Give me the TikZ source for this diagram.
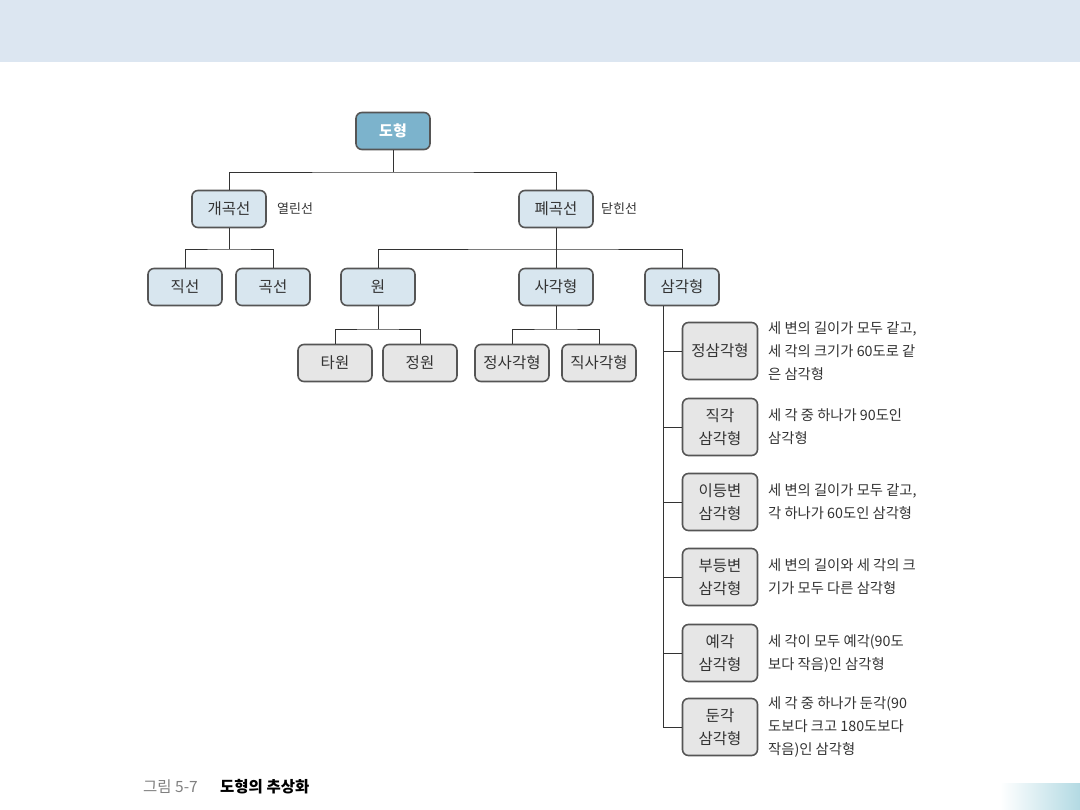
\documentclass[tikz,border=0pt]{standalone}
\usepackage{fontspec}
\setmainfont{Noto Sans CJK KR}
\usetikzlibrary{positioning}
\definecolor{band}{HTML}{DCE6F1}
\definecolor{topfill}{HTML}{7CB3CC}
\definecolor{bluefill}{HTML}{D8E6EF}
\definecolor{grayfill}{HTML}{E6E6E6}
\definecolor{edge}{HTML}{555555}
\definecolor{txt}{HTML}{333333}
\definecolor{teal}{HTML}{B3DAE3}
\tikzset{
  boxbase/.style={draw=edge, line width=1.6pt, rounded corners=6pt, inner sep=0pt, align=center, text=txt, font=\fontsize{15.5}{18}\selectfont},
  topbox/.style={boxbase, fill=topfill, text=white, minimum width=74pt, minimum height=37pt, font=\fontsize{15}{18}\selectfont\bfseries},
  bluebox/.style={boxbase, fill=bluefill, minimum width=74pt, minimum height=37pt},
  graybox/.style={boxbase, fill=grayfill, minimum width=74pt, minimum height=37pt},
  tribox/.style={boxbase, fill=grayfill, minimum width=75pt, minimum height=57pt, font=\fontsize{15.5}{23.5}\selectfont},
  conn/.style={draw=txt, line width=0.9pt},
  side/.style={text=txt, inner sep=0pt, font=\fontsize{13}{16}\selectfont},
  desc/.style={text=txt, inner sep=0pt, anchor=west, align=left, font=\fontsize{14.3}{23}\selectfont}
}
\begin{document}
\begin{tikzpicture}[x=1pt,y=-1pt]
\useasboundingbox (0,0) rectangle (1080,810);
\fill[white] (0,0) rectangle (1080,810);
\fill[band] (0,0) rectangle (1080,62);
\shade[left color=white, right color=teal] (1000,783) rectangle (1080,810);

% level 0
\node[topbox] (doh) at (393,131) {도형};
% level 1
\node[bluebox] (gae) at (229,209) {개곡선};
\node[bluebox] (pye) at (556,209) {폐곡선};
\node[side, anchor=west] (yeol) at (277,209) {열린선};
\node[side, anchor=west] (dat) at (601,209) {닫힌선};
% level 2
\node[bluebox] (jik) at (185,287) {직선};
\node[bluebox] (gok) at (273,287) {곡선};
\node[bluebox] (won) at (378,287) {원};
\node[bluebox] (sa) at (556,287) {사각형};
\node[bluebox] (sam) at (682,287) {삼각형};
% level 3
\node[graybox] (ta) at (335,363) {타원};
\node[graybox] (jw) at (420,363) {정원};
\node[graybox] (jsa) at (512,363) {정사각형};
\node[graybox] (jiksa) at (599,363) {직사각형};
% triangles
\node[tribox] (t1) at (720,351) {정삼각형};
\node[tribox] (t2) at (720,427) {직각\\삼각형};
\node[tribox] (t3) at (720,502) {이등변\\삼각형};
\node[tribox] (t4) at (720,577) {부등변\\삼각형};
\node[tribox] (t5) at (720,653) {예각\\삼각형};
\node[tribox] (t6) at (720,727) {둔각\\삼각형};

\node[desc] (d1) at (768,351) {세 변의 길이가 모두 같고,\\세 각의 크기가 60도로 같\\은 삼각형};
\node[desc] (d2) at (768,427) {세 각 중 하나가 90도인\\삼각형};
\node[desc] (d3) at (768,502) {세 변의 길이가 모두 같고,\\각 하나가 60도인 삼각형};
\node[desc] (d4) at (768,577) {세 변의 길이와 세 각의 크\\기가 모두 다른 삼각형};
\node[desc] (d5) at (768,653) {세 각이 모두 예각(90도\\보다 작음)인 삼각형};
\node[desc] (d6) at (768,727) {세 각 중 하나가 둔각(90\\도보다 크고 180도보다\\작음)인 삼각형};

% connectors
\coordinate (b0) at (393,172);
\draw[conn] (doh.south) -- (b0);
\draw[conn] (gae.north) |- (b0) -| (pye.north);
\coordinate (b1) at (229,249);
\draw[conn] (gae.south) -- (b1);
\draw[conn] (jik.north) |- (b1) -| (gok.north);
\coordinate (b2) at (556,249);
\draw[conn] (pye.south) -- (sa.north);
\draw[conn] (won.north) |- (b2) -| (sam.north);
\coordinate (b3) at (378,329);
\draw[conn] (won.south) -- (b3);
\draw[conn] (ta.north) |- (b3) -| (jw.north);
\coordinate (b4) at (556,329);
\draw[conn] (sa.south) -- (b4);
\draw[conn] (jsa.north) |- (b4) -| (jiksa.north);
\coordinate (tv) at (663,306);
\draw[conn] (tv) |- (t6.west);
\draw[conn] (t1.west -| tv) -- (t1.west);
\draw[conn] (t2.west -| tv) -- (t2.west);
\draw[conn] (t3.west -| tv) -- (t3.west);
\draw[conn] (t4.west -| tv) -- (t4.west);
\draw[conn] (t5.west -| tv) -- (t5.west);

% caption
\node[anchor=west, inner sep=0pt, text=gray, font=\fontsize{15.5}{18}\selectfont] (cap1) at (143,787) {그림 5-7};
\node[anchor=west, inner sep=0pt, text=black, font=\fontsize{15.5}{18}\selectfont\bfseries] (cap2) at (220,787) {도형의 추상화};
\end{tikzpicture}
\end{document}
